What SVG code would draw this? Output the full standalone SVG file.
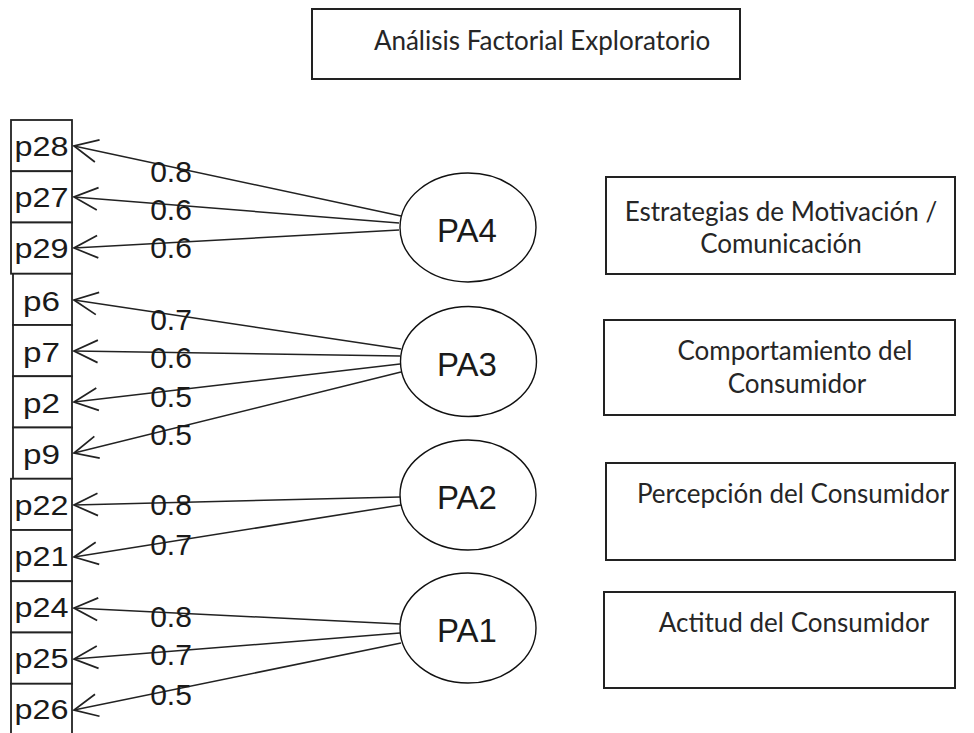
<svg xmlns="http://www.w3.org/2000/svg" width="974" height="733" viewBox="0 0 974 733">
<defs>
<marker id="arr" markerUnits="userSpaceOnUse" markerWidth="30" markerHeight="30" refX="0" refY="0" viewBox="-22 -12 24 24" orient="auto">
<path d="M-19,-9 L0,0 L-19,9" fill="none" stroke="#222" stroke-width="1.4"/>
</marker>
</defs>
<style>
.box{fill:#fff;stroke:#222;stroke-width:1.8}
.item{font-family:"Liberation Sans",Arial,sans-serif;font-size:28px;fill:#1a1a1a;text-anchor:middle}
.fac{fill:#fff;stroke:#111;stroke-width:1.4}
.factxt{font-family:"Liberation Sans",Arial,sans-serif;font-size:33px;fill:#1a1a1a;text-anchor:middle}
.edge{fill:none;stroke:#222;stroke-width:1.5;marker-end:url(#arr)}
.lab{font-family:"Liberation Sans",Arial,sans-serif;font-size:30px;fill:#1a1a1a;text-anchor:middle}
.tbox{fill:#fff;stroke:#222;stroke-width:2}
.ttxt{font-family:Lato,"Noto Sans",sans-serif;font-size:26px;fill:#262626;text-anchor:middle}
</style>
<g id="title">
<rect class="tbox" x="312" y="9" width="428" height="70"/>
<text class="ttxt" x="542" y="50">Análisis Factorial Exploratorio</text>
</g>
<g id="connectors">
<line class="edge" x1="401" y1="216" x2="74" y2="146"/>
<line class="edge" x1="399" y1="223" x2="74" y2="197"/>
<line class="edge" x1="399" y1="230" x2="74" y2="248"/>
<line class="edge" x1="401" y1="349" x2="74" y2="300"/>
<line class="edge" x1="400" y1="356" x2="74" y2="351"/>
<line class="edge" x1="400" y1="364" x2="74" y2="402"/>
<line class="edge" x1="401" y1="372" x2="74" y2="453"/>
<line class="edge" x1="400" y1="497" x2="74" y2="505"/>
<line class="edge" x1="401" y1="505" x2="74" y2="557"/>
<line class="edge" x1="400" y1="624" x2="74" y2="608"/>
<line class="edge" x1="400" y1="633" x2="74" y2="659"/>
<line class="edge" x1="401" y1="643" x2="74" y2="710"/>
<text class="lab" x="171" y="182">0.8</text>
<text class="lab" x="171" y="220">0.6</text>
<text class="lab" x="171" y="258">0.6</text>
<text class="lab" x="171" y="330">0.7</text>
<text class="lab" x="171" y="368">0.6</text>
<text class="lab" x="171" y="407">0.5</text>
<text class="lab" x="171" y="445">0.5</text>
<text class="lab" x="171" y="515">0.8</text>
<text class="lab" x="171" y="555">0.7</text>
<text class="lab" x="171" y="627">0.8</text>
<text class="lab" x="171" y="665">0.7</text>
<text class="lab" x="171" y="705">0.5</text>
</g>
<g id="p28"><rect class="box" x="11" y="120" width="61" height="51.25"/><text class="item" x="41.5" y="156" textLength="54" lengthAdjust="spacingAndGlyphs">p28</text></g>
<g id="p27"><rect class="box" x="11" y="171.25" width="61" height="51.25"/><text class="item" x="41.5" y="207" textLength="54" lengthAdjust="spacingAndGlyphs">p27</text></g>
<g id="p29"><rect class="box" x="11" y="222.5" width="61" height="51.25"/><text class="item" x="41.5" y="258" textLength="54" lengthAdjust="spacingAndGlyphs">p29</text></g>
<g id="p6"><rect class="box" x="13" y="273.75" width="59" height="51.25"/><text class="item" x="41.5" y="311" textLength="37" lengthAdjust="spacingAndGlyphs">p6</text></g>
<g id="p7"><rect class="box" x="13" y="325" width="59" height="51.25"/><text class="item" x="41.5" y="362" textLength="37" lengthAdjust="spacingAndGlyphs">p7</text></g>
<g id="p2"><rect class="box" x="13" y="376.25" width="59" height="51.25"/><text class="item" x="41.5" y="413" textLength="37" lengthAdjust="spacingAndGlyphs">p2</text></g>
<g id="p9"><rect class="box" x="13" y="427.5" width="59" height="51.25"/><text class="item" x="41.5" y="464" textLength="37" lengthAdjust="spacingAndGlyphs">p9</text></g>
<g id="p22"><rect class="box" x="11" y="478.75" width="61" height="51.25"/><text class="item" x="41.5" y="515" textLength="54" lengthAdjust="spacingAndGlyphs">p22</text></g>
<g id="p21"><rect class="box" x="11" y="530" width="61" height="51.25"/><text class="item" x="41.5" y="566" textLength="54" lengthAdjust="spacingAndGlyphs">p21</text></g>
<g id="p24"><rect class="box" x="11" y="581.25" width="61" height="51.25"/><text class="item" x="41.5" y="617" textLength="54" lengthAdjust="spacingAndGlyphs">p24</text></g>
<g id="p25"><rect class="box" x="11" y="632.5" width="61" height="51.25"/><text class="item" x="41.5" y="668" textLength="54" lengthAdjust="spacingAndGlyphs">p25</text></g>
<g id="p26"><rect class="box" x="11" y="683.75" width="61" height="51.25"/><text class="item" x="41.5" y="719" textLength="54" lengthAdjust="spacingAndGlyphs">p26</text></g>
<g id="PA4"><ellipse class="fac" cx="468" cy="227.5" rx="68" ry="54.5"/><text class="factxt" x="467" y="242">PA4</text></g>
<g id="PA3"><ellipse class="fac" cx="468.5" cy="361.5" rx="68" ry="55"/><text class="factxt" x="467" y="376">PA3</text></g>
<g id="PA2"><ellipse class="fac" cx="468" cy="495" rx="68" ry="55"/><text class="factxt" x="467" y="509">PA2</text></g>
<g id="PA1"><ellipse class="fac" cx="468" cy="628" rx="68" ry="55"/><text class="factxt" x="467" y="642">PA1</text></g>
<g id="f4"><rect class="tbox" x="606" y="177" width="349" height="97"/><text class="ttxt" x="781" y="221">Estrategias de Motivación /</text><text class="ttxt" x="781" y="253">Comunicación</text></g>
<g id="f3"><rect class="tbox" x="604" y="320" width="351" height="95"/><text class="ttxt" x="795" y="360">Comportamiento del</text><text class="ttxt" x="797" y="393">Consumidor</text></g>
<g id="f2"><rect class="tbox" x="606" y="463" width="349" height="97"/><text class="ttxt" x="793" y="503">Percepción del Consumidor</text></g>
<g id="f1"><rect class="tbox" x="604" y="592" width="351" height="96"/><text class="ttxt" x="794" y="632">Actitud del Consumidor</text></g>
</svg>
